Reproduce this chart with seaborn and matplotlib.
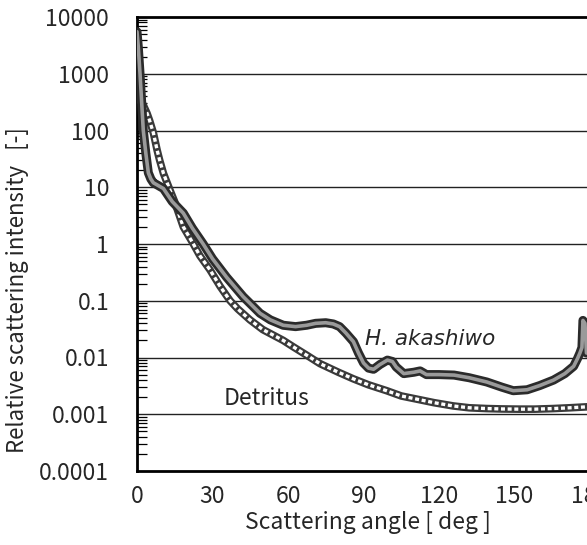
import numpy as np
import pandas as pd
import matplotlib
matplotlib.use("Agg")
import matplotlib.pyplot as plt
import seaborn as sns
from matplotlib.ticker import LogLocator, FixedLocator, NullFormatter

# values (angle in deg, relative intensity)
akashiwo_angle = [0, 0.5, 1.2, 2.5, 3.5, 4.5, 5.5, 6.5, 8, 10.5, 14, 18.4, 22, 26.3, 30, 35.6, 42.2, 48.9,
                  53, 58.1, 63, 67.4, 71, 75, 78, 80.5, 83, 86, 88, 90, 92, 94, 96.5, 99.5, 101.5, 103,
                  106, 110, 112.5, 115, 120, 126, 132, 139, 145, 149.5, 155, 160, 165.5, 170, 173.5,
                  175, 176, 176.8, 177.2, 178, 178.6, 180]
akashiwo_val = [5500, 3000, 1000, 100, 40, 18, 14, 12, 11, 9.5, 5.6, 3.5, 1.9, 1.0, 0.55, 0.26, 0.118, 0.06,
                0.046, 0.037, 0.035, 0.037, 0.040, 0.041, 0.039, 0.035, 0.027, 0.019, 0.012, 0.008, 0.0065,
                0.0062, 0.0075, 0.009, 0.0085, 0.0068, 0.0052, 0.0055, 0.0058, 0.005, 0.005, 0.0049,
                0.0044, 0.0037, 0.003, 0.0026, 0.0027, 0.0032, 0.004, 0.0052, 0.007, 0.0095, 0.012,
                0.015, 0.045, 0.04, 0.012, 0.012]

detritus_angle = [0, 1, 2.5, 4, 5, 6.5, 8, 9, 10.5, 13.1, 15, 18.4, 22.4, 25, 29, 33, 37, 40, 44.9, 50,
                  58.1, 62, 67.4, 72.7, 80, 86, 92, 99.2, 105, 112.4, 118, 125.7, 132, 139, 145, 152,
                  158, 165.4, 172, 178.6, 180]
detritus_val = [425, 350, 280, 200, 150, 91, 45, 30, 17.6, 8.9, 5.5, 2.0, 1.0, 0.62, 0.35, 0.18, 0.1, 0.072,
                0.046, 0.031, 0.02, 0.0155, 0.011, 0.0078, 0.0055, 0.0042, 0.0033, 0.0026, 0.0021, 0.0018,
                0.0016, 0.0014, 0.0013, 0.00126, 0.00124, 0.00123, 0.00123, 0.00126, 0.0013, 0.00135,
                0.00135]

y_ticks = [0.0001, 0.001, 0.01, 0.1, 1, 10, 100, 1000, 10000]
y_ticklabels = ["0.0001", "0.001", "0.01", "0.1", "1", "10", "100", "1000", "10000"]
x_ticks = [0, 30, 60, 90, 120, 150, 180]

aka = pd.DataFrame({"angle": akashiwo_angle, "value": akashiwo_val})
det = pd.DataFrame({"angle": detritus_angle, "value": detritus_val})

sns.set_style("white")
plt.rcParams["font.family"] = ["Noto Sans CJK JP", "DejaVu Sans"]

fig = plt.figure(figsize=(5.87, 5.45), dpi=100)
ax = fig.add_axes([137 / 587, 1 - 471 / 545, (590 - 137) / 587, (471 - 17) / 545])

# detritus: chain of small open circles -> dark tube with white dashes inside
sns.lineplot(data=det, x="angle", y="value", ax=ax, color="#3a3a3a", linewidth=5.5, zorder=3)
sns.lineplot(data=det, x="angle", y="value", ax=ax, color="white", linewidth=2.4, zorder=4,
             linestyle=(0, (1.2, 0.8)))
# H. akashiwo: thick dark outline with grey core
sns.lineplot(data=aka, x="angle", y="value", ax=ax, color="#2b2b2b", linewidth=6.5, zorder=5)
sns.lineplot(data=aka, x="angle", y="value", ax=ax, color="#9a9a9a", linewidth=2.6, zorder=6)

ax.set_yscale("log")
ax.set_ylim(0.0001, 10000)
ax.set_xlim(0, 180)

ax.yaxis.set_major_locator(FixedLocator(y_ticks))
ax.set_yticklabels(y_ticklabels)
ax.yaxis.set_minor_locator(LogLocator(base=10, subs=np.arange(2, 10), numticks=20))
ax.yaxis.set_minor_formatter(NullFormatter())
ax.xaxis.set_major_locator(FixedLocator(x_ticks))

for y in y_ticks[1:-1]:
    ax.axhline(y, color="#222222", linewidth=1.0, zorder=1)

ax.tick_params(axis="x", direction="in", length=20, width=1.2, color="black",
               labelsize=16.5, pad=10)
ax.tick_params(axis="y", which="major", direction="in", length=0, labelsize=16.5, pad=20)
ax.tick_params(axis="y", which="minor", direction="in", length=7, width=0.9, color="black", left=True)

for side in ["left", "bottom", "top"]:
    ax.spines[side].set_color("black")
    ax.spines[side].set_linewidth(2.0)
ax.spines["right"].set_visible(False)

ax.set_xlabel("")
ax.set_ylabel("")
fig.text(368 / 587, 1 - 522 / 545, "Scattering angle [ deg ]", ha="center", va="center", fontsize=16.5)
fig.text(18 / 587, 1 - 290 / 545, "Relative scattering intensity   [-]", ha="center", va="center",
         rotation=90, fontsize=16)

ax.text(90.6, 0.021, "H. akashiwo", fontsize=15.5, style="italic", family=["DejaVu Sans"],
        ha="left", va="center", zorder=7)
ax.text(34.5, 0.0019, "Detritus", fontsize=16.5, ha="left", va="center", zorder=7)

fig.savefig("out.png", dpi=100)
